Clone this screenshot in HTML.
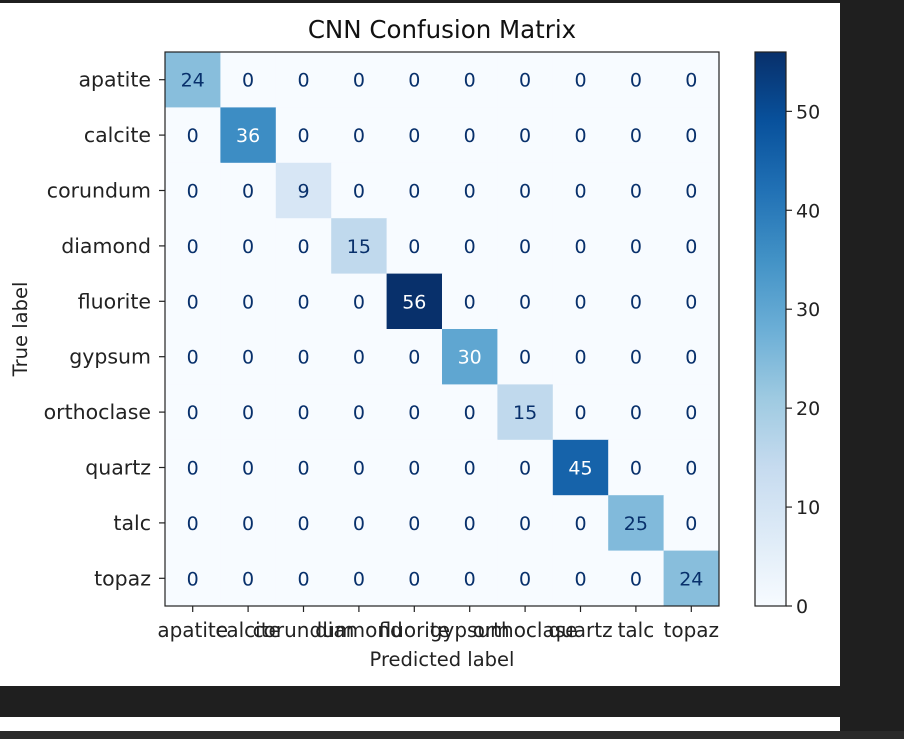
<!DOCTYPE html>
<html><head><meta charset="utf-8"><style>
html,body{margin:0;padding:0;background:#1f1f1f;width:904px;height:739px;overflow:hidden}
svg{display:block}
text{font-family:"DejaVu Sans","Liberation Sans",sans-serif}
</style></head><body>
<svg id="c" width="904" height="739">
<rect x="0" y="0" width="904" height="739" fill="#1f1f1f"/>
<rect x="0" y="3" width="840" height="683" fill="#ffffff"/>
<rect x="0" y="717" width="840" height="14" fill="#ffffff"/>
<rect x="0" y="731" width="904" height="8" fill="#2a2a2a"/>
<text x="442" y="38" font-size="24.5" text-anchor="middle" fill="#111">CNN Confusion Matrix</text>
<g id="cells"></g>
<text x="442" y="666" font-size="19.5" text-anchor="middle" fill="#222">Predicted label</text>
<text transform="translate(27,329) rotate(-90)" font-size="19.5" text-anchor="middle" fill="#222">True label</text>
</svg>
<script>
const labels=["apatite","calcite","corundum","diamond","fluorite","gypsum","orthoclase","quartz","talc","topaz"];
const diagValues=[24,36,9,15,56,30,15,45,25,24];
const cbTicks=[0,10,20,30,40,50];
const vmax=56;
const L=165,T=52,CS=55.4,N=labels.length;
const stops=["#f7fbff","#deebf7","#c6dbef","#9ecae1","#6baed6","#4292c6","#2171b5","#08519c","#08306b"];
function hx(h){return[1,3,5].map(i=>parseInt(h.substr(i,2),16))}
function cmap(v){let t=Math.max(0,Math.min(1,v/vmax))*8;let i=Math.min(7,Math.floor(t)),f=t-i;let a=hx(stops[i]),b=hx(stops[i+1]);return"rgb("+a.map((x,k)=>Math.round(x+(b[k]-x)*f)).join(",")+")"}
const xs=i=>L+i*CS, ys=i=>T+i*CS;
const g=document.getElementById('cells');
const NS="http://www.w3.org/2000/svg";
function mk(t,a){const e=document.createElementNS(NS,t);for(const k in a)e.setAttribute(k,a[k]);return e}
const W=N*CS;
for(let r=0;r<N;r++)for(let c=0;c<N;c++){
 const v=r===c?diagValues[r]:0;
 const rc=mk('rect',{x:xs(c),y:ys(r),width:CS+0.5,height:CS+0.5,fill:cmap(v)});
 
 
 g.appendChild(rc);
 const tx=mk('text',{x:xs(c)+CS/2,y:ys(r)+CS/2+7,'font-size':19,'text-anchor':'middle',fill:v>vmax/2?'#ffffff':'#08306b'});
 tx.textContent=v;
 
 
 g.appendChild(tx);
}
const fr=mk('rect',{x:L,y:T,width:W,height:W,fill:'none',stroke:'#222','stroke-width':1.2});


g.appendChild(fr);
for(let i=0;i<N;i++){
 g.appendChild(mk('line',{x1:L-6,x2:L,y1:ys(i)+CS/2,y2:ys(i)+CS/2,stroke:'#222','stroke-width':1.2}));
 const yl=mk('text',{x:L-14,y:ys(i)+CS/2+7,'font-size':20.5,'text-anchor':'end',fill:'#222'});
 yl.textContent=labels[i];
 
 
 g.appendChild(yl);
 g.appendChild(mk('line',{x1:xs(i)+CS/2,x2:xs(i)+CS/2,y1:T+W,y2:T+W+6,stroke:'#222','stroke-width':1.2}));
 const xl=mk('text',{x:xs(i)+CS/2,y:T+W+31,'font-size':20,'text-anchor':'middle',fill:'#222'});
 xl.textContent=labels[i];
 
 
 g.appendChild(xl);
}
const CX=755,CW=31;
const defs=mk('defs',{});const lg=mk('linearGradient',{id:'cb',x1:0,y1:1,x2:0,y2:0});
stops.forEach((s,i)=>lg.appendChild(mk('stop',{offset:i/8,'stop-color':s})));
defs.appendChild(lg);g.appendChild(defs);
const cb=mk('rect',{x:CX,y:T,width:CW,height:W,fill:'url(#cb)',stroke:'#222','stroke-width':1.2});


g.appendChild(cb);
const cy=v=>T+W-v/vmax*W;
cbTicks.forEach(v=>{
 g.appendChild(mk('line',{x1:CX+CW,x2:CX+CW+6,y1:cy(v),y2:cy(v),stroke:'#222','stroke-width':1.2}));
 const t=mk('text',{x:CX+CW+10,y:cy(v)+7,'font-size':19,fill:'#222'});
 t.textContent=v;
 
 
 g.appendChild(t);
});
</script>
</body></html>
